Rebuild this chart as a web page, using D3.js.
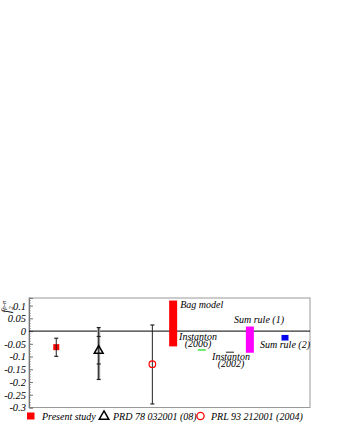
<!DOCTYPE html>
<html><head><meta charset="utf-8">
<script src="https://cdn.jsdelivr.net/npm/d3@7"></script>
<style>body{margin:0;background:#fff}svg{display:block}svg text{font-family:"Liberation Serif","DejaVu Serif",serif !important;font-style:italic !important}</style>
</head><body>
<script>
// Data
const yTicks = [0.1, 0.05, 0, -0.05, -0.1, -0.15, -0.2, -0.25, -0.3];
const yTickLabels = ["0.1","0.05","0","-0.05","-0.1","-0.15","-0.2","-0.25","-0.3"];
// points with errors
const pointNames = ["Present study", "PRD 78 032001 (08)", "PRL 93 212001 (2004)"];
const pointX = [0.97, 2.48, 4.39];
const pointY = [-0.063, -0.077, -0.13];
const errHi = [-0.028, 0.014, 0.024];
const errLo = [-0.099, -0.19, -0.286];
const statHi = [null, -0.021, null];
const statLo = [null, -0.129, null];
// model ranges (boxes)
const boxNames = ["Bag model", "Sum rule (1)", "Sum rule (2)"];
const boxX = [5.13, 7.86, 9.11];
const boxTop = [0.12, 0.018, -0.015];
const boxBot = [-0.06, -0.085, -0.037];
const boxColors = ["#ff0000", "#ff00ff", "#0000ee"];
// instanton lines
const lineNames = ["Instanton|(2006)", "Instanton|(2002)"];
const lineX = [6.15, 7.15];
const lineY = [-0.074, -0.083];
const lineColors = ["#22dd22", "#555555"];

const W = 340, H = 440;
const svg = d3.select("body").append("svg").attr("width", W).attr("height", H);
const L = 29, R = 310, T = 298, B = 407.5;
const x = d3.scaleLinear().domain([0, 10]).range([L, R]);
const y = d3.scaleLinear().domain([-0.3, 0.13]).range([B, T]);
const px = v => x(v), py = v => y(v);

// frame
svg.append("rect").attr("x", L).attr("y", T).attr("width", R - L).attr("height", B - T)
  .attr("fill", "none").attr("stroke", "#999").attr("stroke-width", 1);

// minor ticks
const minor = d3.range(-30, 14).map(i => i / 100);
svg.append("g").selectAll("line").data(minor).join("line")
  .attr("x1", L).attr("x2", L + 2).attr("y1", d => py(d)).attr("y2", d => py(d))
  .attr("stroke", "#999").attr("stroke-width", 0.8);
// y axis
const yAxis = d3.axisLeft(y).tickValues(yTicks).tickSize(-4).tickFormat((d, i) => yTickLabels[i]).tickPadding(3);
const ga = svg.append("g").attr("transform", `translate(${L},0)`).call(yAxis);
ga.select(".domain").attr("stroke", "#777");
ga.selectAll(".tick line").attr("stroke", "#777");
ga.selectAll(".tick text").attr("font-size", 10.5).attr("fill", "#000");

// zero line
svg.append("line").attr("x1", L).attr("x2", R).attr("y1", py(0)).attr("y2", py(0)).attr("stroke", "#000").attr("stroke-width", 1);

// y label
const yl = svg.append("text").attr("transform", `translate(10,${T + 15}) rotate(-90)`).attr("font-size", 11.5);
yl.append("tspan").text("f");
yl.append("tspan").attr("font-size", 7).attr("dy", 2.5).text("2");
yl.append("tspan").attr("font-size", 7).attr("dx", -3.5).attr("dy", -7).text("p-n");

// boxes
boxNames.forEach((n, i) => {
  const w = i === 2 ? 7 : 8;
  svg.append("rect").attr("x", px(boxX[i]) - w / 2).attr("y", py(boxTop[i]))
    .attr("width", w).attr("height", py(boxBot[i]) - py(boxTop[i])).attr("fill", boxColors[i]);
});
// instanton lines
lineNames.forEach((n, i) => {
  svg.append("line").attr("x1", px(lineX[i]) - 4).attr("x2", px(lineX[i]) + 4)
    .attr("y1", py(lineY[i])).attr("y2", py(lineY[i])).attr("stroke", lineColors[i]).attr("stroke-width", 1.3);
});

// error bars
pointNames.forEach((n, i) => {
  const cx = px(pointX[i]);
  if (i === 1) {
    svg.append("line").attr("x1", cx).attr("x2", cx).attr("y1", py(errHi[i])).attr("y2", py(errLo[i])).attr("stroke", "#aaa").attr("stroke-width", 3);
  }
  svg.append("line").attr("x1", cx).attr("x2", cx).attr("y1", py(errHi[i])).attr("y2", py(errLo[i])).attr("stroke", "#222").attr("stroke-width", 1);
  [errHi[i], errLo[i], statHi[i], statLo[i]].forEach(v => {
    if (v === null) return;
    svg.append("line").attr("x1", cx - 2).attr("x2", cx + 2).attr("y1", py(v)).attr("y2", py(v)).attr("stroke", "#222").attr("stroke-width", 1.2);
  });
});
// markers
const sqSize = 6;
svg.append("rect").attr("x", px(pointX[0]) - sqSize / 2).attr("y", py(pointY[0]) - sqSize / 2)
  .attr("width", sqSize).attr("height", sqSize).attr("fill", "#ff0000");
svg.append("line").attr("x1", px(pointX[0])).attr("x2", px(pointX[0])).attr("y1", py(pointY[0]) - 3).attr("y2", py(pointY[0]) + 3).attr("stroke", "#222").attr("stroke-width", 1);
const tri = d3.symbol().type(d3.symbolTriangle).size(34);
svg.append("path").attr("d", tri()).attr("transform", `translate(${px(pointX[1])},${py(pointY[1])})`)
  .attr("fill", "none").attr("stroke", "#000").attr("stroke-width", 1.5);
svg.append("circle").attr("cx", px(pointX[2])).attr("cy", py(pointY[2])).attr("r", 3.3)
  .attr("fill", "none").attr("stroke", "#ff0000").attr("stroke-width", 1.2);

// labels
const fs = 10;
svg.append("text").attr("x", px(boxX[0]) + 7).attr("y", 308).attr("font-size", fs).text(boxNames[0]);
svg.append("text").attr("x", 259).attr("y", 323).attr("font-size", fs).attr("text-anchor", "middle").text(boxNames[1]);
svg.append("text").attr("x", 285).attr("y", 348).attr("font-size", fs).attr("text-anchor", "middle").text(boxNames[2]);
const instPos = [[198, 340], [231, 360]];
lineNames.forEach((n, i) => {
  const parts = n.split("|");
  parts.forEach((p, j) => {
    svg.append("text").attr("x", instPos[i][0]).attr("y", instPos[i][1] + j * 7).attr("font-size", fs)
      .attr("text-anchor", "middle").text(p);
  });
});

// legend
const ly = 416;
svg.append("rect").attr("x", 27).attr("y", ly - 3.5).attr("width", 7.5).attr("height", 7).attr("fill", "#ff0000");
svg.append("text").attr("x", 42).attr("y", ly + 3.5).attr("font-size", fs).text(pointNames[0]);
svg.append("path").attr("d", d3.symbol().type(d3.symbolTriangle).size(40)()).attr("transform", `translate(104,${ly + 0.5})`)
  .attr("fill", "none").attr("stroke", "#000").attr("stroke-width", 1.5);
svg.append("text").attr("x", 113).attr("y", ly + 3.5).attr("font-size", fs).text(pointNames[1]);
svg.append("circle").attr("cx", 200.5).attr("cy", ly).attr("r", 3.6).attr("fill", "none").attr("stroke", "#ff0000").attr("stroke-width", 1.3);
svg.append("text").attr("x", 211).attr("y", ly + 3.5).attr("font-size", fs).text(pointNames[2]);
</script>
</body></html>
